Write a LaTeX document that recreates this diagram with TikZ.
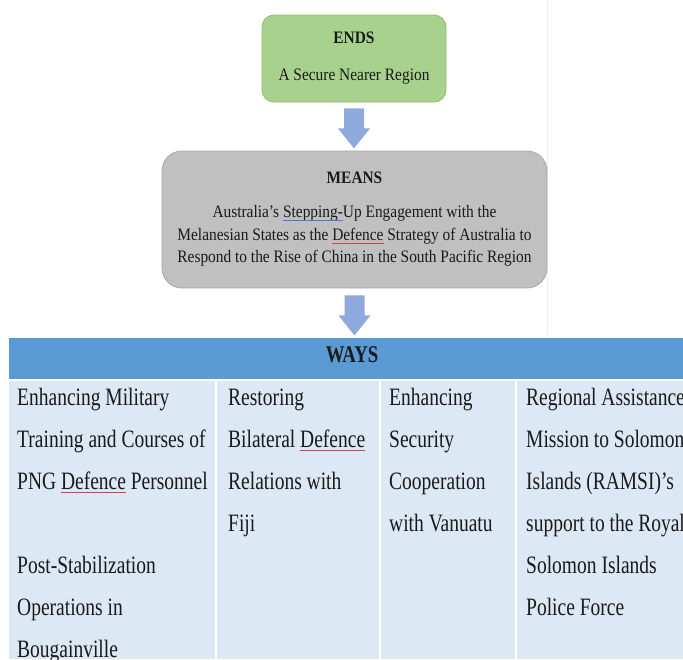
\documentclass[tikz,border=0pt]{standalone}
\usepackage{fontspec}
\setmainfont{Liberation Serif}[FakeStretch=0.88]
\newfontfamily\waysfont{Liberation Serif}[FakeStretch=0.78]
\usetikzlibrary{calc}
\definecolor{endsfill}{HTML}{A9D18E}
\definecolor{endsdraw}{HTML}{8DBB6E}
\definecolor{meansfill}{HTML}{C0C0C0}
\definecolor{meansdraw}{HTML}{A8A8A8}
\definecolor{arrowc}{HTML}{8EA9DB}
\definecolor{wayshead}{HTML}{5B9BD5}
\definecolor{waysbody}{HTML}{DDE8F5}
\definecolor{squigred}{HTML}{D04050}
\definecolor{squigblue}{HTML}{6070D0}
\definecolor{inkc}{HTML}{1A1A1A}
\newcommand\squig[2]{\setbox0\hbox{#2}\rlap{\copy0}\textcolor{#1}{\rule[-3.5pt]{\wd0}{0.7pt}}}
\tikzset{
  endsbox/.style={draw=endsdraw, line width=0.8pt, fill=endsfill, rounded corners=12pt,
    minimum width=184pt, minimum height=87pt, inner sep=0pt},
  meansbox/.style={draw=meansdraw, line width=0.8pt, fill=meansfill, rounded corners=20pt,
    minimum width=385pt, minimum height=137pt, inner sep=0pt},
  titletext/.style={font=\fontsize{17.5}{20}\selectfont\bfseries, inner sep=0pt, anchor=base, text=inkc},
  boxtext/.style={font=\fontsize{17.5}{23}\selectfont, inner sep=0pt, anchor=base, text=inkc},
  waytext/.style={font=\waysfont\fontsize{25}{42}\selectfont, inner sep=0pt, anchor=base west, text=inkc},
  blockarrow/.style={fill=arrowc},
  sepline/.style={draw=white, line width=1.5pt}
}
\begin{document}
\begin{tikzpicture}[x=1pt,y=-1pt]
\useasboundingbox (0,0) rectangle (683,659);
\clip (0,0) rectangle (683,659);
\fill[white] (0,0) rectangle (683,659);
\draw[gray!12] (547.5,0) -- (547.5,336);

% ENDS
\node[endsbox] (ends) at (354,58.5) {};
\node[titletext] (endsT) at (354,43.5) {ENDS};
\node[boxtext] (endsB) at (354,80) {A Secure Nearer Region};

% MEANS
\node[meansbox] (means) at (354.5,219.5) {};
\node[titletext] (meansT) at (354.5,183) {MEANS};
\node[boxtext] (m1) at (354.5,217.5) {Australia’s \squig{squigblue}{Stepping-}Up Engagement with the};
\node[boxtext] (m2) at (354.5,240) {Melanesian States as the \squig{squigred}{Defence} Strategy of Australia to};
\node[boxtext] (m3) at (354.5,262.5) {Respond to the Rise of China in the South Pacific Region};

% arrows
\path (ends.south) ++(0,6) coordinate (a1);
\fill[blockarrow] (a1) ++(-10,0) -- ++(20,0) -- ++(0,20) -- ++(6,0) -- ++(-16,20) -- ++(-16,-20) -- ++(6,0) -- cycle;
\path (means.south) ++(0,7) coordinate (a2);
\fill[blockarrow] (a2) ++(-10,0) -- ++(20,0) -- ++(0,20) -- ++(6,0) -- ++(-16,20) -- ++(-16,-20) -- ++(6,0) -- cycle;

% WAYS table
\node[fill=wayshead, minimum width=674pt, minimum height=42pt, anchor=north west, inner sep=0pt] (ways) at (9,338) {};
\node[font=\waysfont\fontsize{24}{26}\selectfont\bfseries, inner sep=0pt, anchor=base, text=inkc] (waysT) at (352,362) {WAYS};
\node[fill=waysbody, minimum width=674pt, minimum height=279pt, anchor=north west, inner sep=0pt] (body) at (9,380) {};
\draw[sepline] (9,380) -- (683,380);
\draw[sepline] (216,380) -- (216,659);
\draw[sepline] (380,380) -- (380,659);
\draw[sepline] (516,380) -- (516,659);

% column 1
\node[waytext] (c1a) at (17,405) {Enhancing Military};
\node[waytext] (c1b) at (17,447) {Training and Courses of};
\node[waytext] (c1c) at (17,489) {PNG \squig{squigred}{Defence} Personnel};
\node[waytext] (c1d) at (17,573) {Post-Stabilization};
\node[waytext] (c1e) at (17,615) {Operations in};
\node[waytext] (c1f) at (17,657) {Bougainville};
% column 2
\node[waytext] (c2a) at (228,405) {Restoring};
\node[waytext] (c2b) at (228,447) {Bilateral \squig{squigred}{Defence}};
\node[waytext] (c2c) at (228,489) {Relations with};
\node[waytext] (c2d) at (228,531) {Fiji};
% column 3
\node[waytext] (c3a) at (389,405) {Enhancing};
\node[waytext] (c3b) at (389,447) {Security};
\node[waytext] (c3c) at (389,489) {Cooperation};
\node[waytext] (c3d) at (389,531) {with Vanuatu};
% column 4
\node[waytext] (c4a) at (526,405) {Regional Assistance};
\node[waytext] (c4b) at (526,447) {Mission to Solomon};
\node[waytext] (c4c) at (526,489) {Islands (RAMSI)’s};
\node[waytext] (c4d) at (526,531) {support to the Royal};
\node[waytext] (c4e) at (526,573) {Solomon Islands};
\node[waytext] (c4f) at (526,615) {Police Force};
\end{tikzpicture}
\end{document}
